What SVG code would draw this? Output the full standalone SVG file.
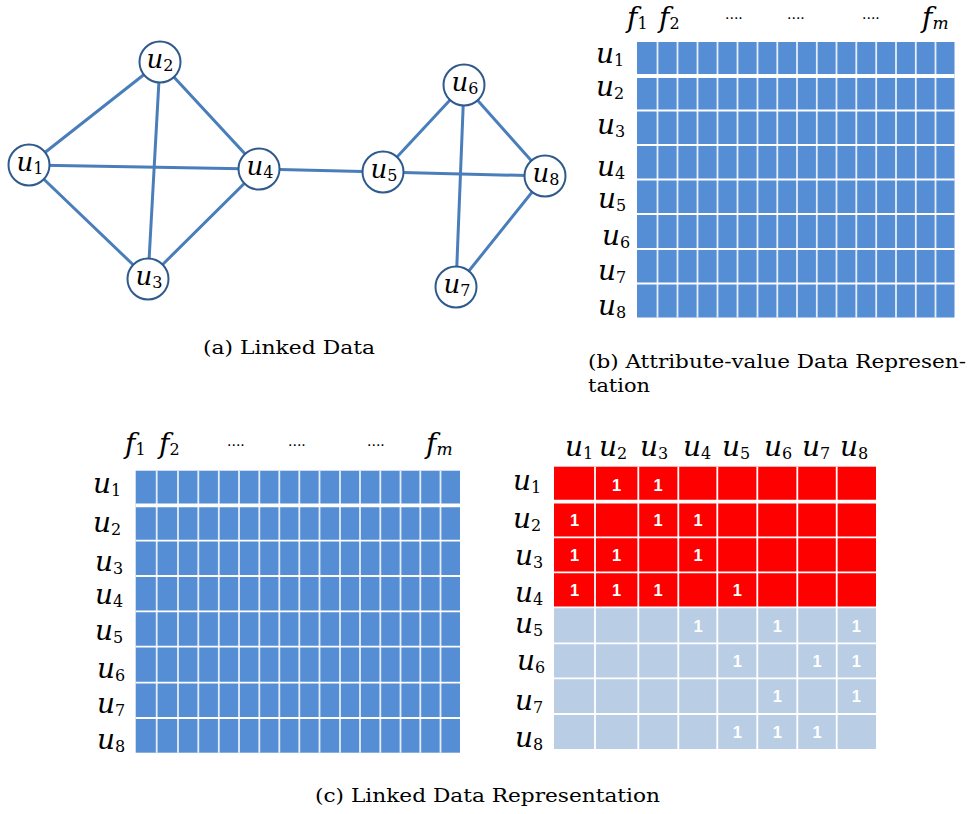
<svg xmlns="http://www.w3.org/2000/svg" width="969" height="814" viewBox="0 0 969 814">
<style>
.u{font-family:"DejaVu Serif",serif;font-style:italic;font-size:28px;fill:#000}
.gl{font-family:"DejaVu Serif",serif;font-style:italic;font-size:26px;fill:#000;text-anchor:middle}
.s{font-style:normal;font-size:16px}
.si{font-style:italic;font-size:17px}
.f{font-family:"DejaVu Serif",serif;font-style:italic;font-size:28px;fill:#000}
.dots{font-family:"Liberation Sans",Arial,sans-serif;font-size:16px;fill:#000}
.one{font-family:"Liberation Sans",Arial,sans-serif;font-weight:bold;font-size:16.5px;fill:#fff;text-anchor:middle}
.cap{font-family:"DejaVu Serif",serif;font-size:18px;fill:#000}
.gv{stroke:#fff;stroke-width:1.8;opacity:0.85}
.gh{stroke:#fff;stroke-width:1.8}
.gt{stroke:#fff;stroke-width:3.8}
.edge{stroke:#4a7ebb;stroke-width:3;stroke-linecap:round}
.node{fill:#fff;stroke:#2f5a8c;stroke-width:2}
</style>

<!-- connectors -->
<g id="connectors">
<line class="edge" x1="29" y1="165" x2="160" y2="62"/>
<line class="edge" x1="29" y1="165" x2="259" y2="169"/>
<line class="edge" x1="29" y1="165" x2="148" y2="279"/>
<line class="edge" x1="160" y1="62" x2="148" y2="279"/>
<line class="edge" x1="160" y1="62" x2="259" y2="169"/>
<line class="edge" x1="148" y1="279" x2="259" y2="169"/>
<line class="edge" x1="259" y1="169" x2="383" y2="172"/>
<line class="edge" x1="383" y1="172" x2="464" y2="85"/>
<line class="edge" x1="383" y1="172" x2="545" y2="176"/>
<line class="edge" x1="464" y1="85" x2="545" y2="176"/>
<line class="edge" x1="464" y1="85" x2="456" y2="287"/>
<line class="edge" x1="456" y1="287" x2="545" y2="176"/>
</g>

<!-- graph nodes -->
<g id="node-u1"><circle class="node" cx="29" cy="165" r="20.5"/><text class="gl" x="30" y="171">u<tspan class="s" dy="3">1</tspan></text></g>
<g id="node-u2"><circle class="node" cx="160" cy="62" r="20.5"/><text class="gl" x="160" y="68">u<tspan class="s" dy="3">2</tspan></text></g>
<g id="node-u3"><circle class="node" cx="148" cy="279" r="20.5"/><text class="gl" x="149" y="285">u<tspan class="s" dy="3">3</tspan></text></g>
<g id="node-u4"><circle class="node" cx="259" cy="169" r="20.5"/><text class="gl" x="260" y="175">u<tspan class="s" dy="3">4</tspan></text></g>
<g id="node-u5"><circle class="node" cx="383" cy="172" r="20.5"/><text class="gl" x="384" y="178">u<tspan class="s" dy="3">5</tspan></text></g>
<g id="node-u6"><circle class="node" cx="464" cy="85" r="20.5"/><text class="gl" x="465" y="91">u<tspan class="s" dy="3">6</tspan></text></g>
<g id="node-u7"><circle class="node" cx="456" cy="287" r="20.5"/><text class="gl" x="457" y="293">u<tspan class="s" dy="3">7</tspan></text></g>
<g id="node-u8"><circle class="node" cx="545" cy="176" r="20.5"/><text class="gl" x="546" y="182">u<tspan class="s" dy="3">8</tspan></text></g>

<text class="cap" x="203" y="354" textLength="172" lengthAdjust="spacingAndGlyphs">(a) Linked Data</text>

<!-- matrix (b) -->
<g id="matrix-b">
<rect x="637" y="42" width="317.5" height="275.5" fill="#558ed5"/>
<g>
<line class="gv" x1="657.5" y1="42" x2="657.5" y2="317.5"/>
<line class="gv" x1="677.5" y1="42" x2="677.5" y2="317.5"/>
<line class="gv" x1="697.5" y1="42" x2="697.5" y2="317.5"/>
<line class="gv" x1="717.5" y1="42" x2="717.5" y2="317.5"/>
<line class="gv" x1="737.5" y1="42" x2="737.5" y2="317.5"/>
<line class="gv" x1="757.5" y1="42" x2="757.5" y2="317.5"/>
<line class="gv" x1="777.3" y1="42" x2="777.3" y2="317.5"/>
<line class="gv" x1="797" y1="42" x2="797" y2="317.5"/>
<line class="gv" x1="816.8" y1="42" x2="816.8" y2="317.5"/>
<line class="gv" x1="836.5" y1="42" x2="836.5" y2="317.5"/>
<line class="gv" x1="856.3" y1="42" x2="856.3" y2="317.5"/>
<line class="gv" x1="876.2" y1="42" x2="876.2" y2="317.5"/>
<line class="gv" x1="896" y1="42" x2="896" y2="317.5"/>
<line class="gv" x1="915.8" y1="42" x2="915.8" y2="317.5"/>
<line class="gv" x1="935.5" y1="42" x2="935.5" y2="317.5"/>
<line class="gt" x1="637" y1="76" x2="954.5" y2="76"/>
<line class="gh" x1="637" y1="110.5" x2="954.5" y2="110.5"/>
<line class="gh" x1="637" y1="145" x2="954.5" y2="145"/>
<line class="gh" x1="637" y1="179.5" x2="954.5" y2="179.5"/>
<line class="gh" x1="637" y1="214" x2="954.5" y2="214"/>
<line class="gh" x1="637" y1="249" x2="954.5" y2="249"/>
<line class="gh" x1="637" y1="283.5" x2="954.5" y2="283.5"/>
</g>
<text class="f" x="627" y="27">f<tspan class="s" dy="2">1</tspan></text>
<text class="f" x="659" y="27">f<tspan class="s" dy="2">2</tspan></text>
<text class="dots" x="725" y="19">....</text>
<text class="dots" x="787" y="19">....</text>
<text class="dots" x="862" y="19">....</text>
<text class="f" x="922" y="27">f<tspan class="si" dy="2">m</tspan></text>
<text class="u" x="596" y="63">u<tspan class="s" dy="3">1</tspan></text>
<text class="u" x="596" y="96">u<tspan class="s" dy="3">2</tspan></text>
<text class="u" x="597" y="134">u<tspan class="s" dy="3">3</tspan></text>
<text class="u" x="597" y="176">u<tspan class="s" dy="3">4</tspan></text>
<text class="u" x="598" y="208">u<tspan class="s" dy="3">5</tspan></text>
<text class="u" x="602" y="245">u<tspan class="s" dy="3">6</tspan></text>
<text class="u" x="598" y="280">u<tspan class="s" dy="3">7</tspan></text>
<text class="u" x="598" y="315">u<tspan class="s" dy="3">8</tspan></text>
</g>
<text class="cap" x="588" y="368" textLength="378" lengthAdjust="spacingAndGlyphs">(b) Attribute-value Data Represen-</text>
<text class="cap" x="588" y="392" textLength="62" lengthAdjust="spacingAndGlyphs">tation</text>

<!-- matrix (c) left -->
<g id="matrix-c-attr">
<rect x="135.7" y="470.7" width="324.3" height="282" fill="#558ed5"/>
<g>
<line class="gv" x1="156.7" y1="470.7" x2="156.7" y2="752.7"/>
<line class="gv" x1="178" y1="470.7" x2="178" y2="752.7"/>
<line class="gv" x1="198.3" y1="470.7" x2="198.3" y2="752.7"/>
<line class="gv" x1="218.8" y1="470.7" x2="218.8" y2="752.7"/>
<line class="gv" x1="239" y1="470.7" x2="239" y2="752.7"/>
<line class="gv" x1="259.3" y1="470.7" x2="259.3" y2="752.7"/>
<line class="gv" x1="279.3" y1="470.7" x2="279.3" y2="752.7"/>
<line class="gv" x1="299.3" y1="470.7" x2="299.3" y2="752.7"/>
<line class="gv" x1="319.5" y1="470.7" x2="319.5" y2="752.7"/>
<line class="gv" x1="340" y1="470.7" x2="340" y2="752.7"/>
<line class="gv" x1="360" y1="470.7" x2="360" y2="752.7"/>
<line class="gv" x1="380.3" y1="470.7" x2="380.3" y2="752.7"/>
<line class="gv" x1="400.5" y1="470.7" x2="400.5" y2="752.7"/>
<line class="gv" x1="420.3" y1="470.7" x2="420.3" y2="752.7"/>
<line class="gv" x1="440.5" y1="470.7" x2="440.5" y2="752.7"/>
<line class="gt" x1="135.7" y1="505.4" x2="460" y2="505.4"/>
<line class="gh" x1="135.7" y1="540.7" x2="460" y2="540.7"/>
<line class="gh" x1="135.7" y1="576" x2="460" y2="576"/>
<line class="gh" x1="135.7" y1="611.3" x2="460" y2="611.3"/>
<line class="gh" x1="135.7" y1="646.7" x2="460" y2="646.7"/>
<line class="gh" x1="135.7" y1="682.6" x2="460" y2="682.6"/>
<line class="gh" x1="135.7" y1="718" x2="460" y2="718"/>
</g>
<text class="f" x="125" y="453">f<tspan class="s" dy="2">1</tspan></text>
<text class="f" x="159" y="453">f<tspan class="s" dy="2">2</tspan></text>
<text class="dots" x="227" y="446">....</text>
<text class="dots" x="288" y="446">....</text>
<text class="dots" x="367" y="446">....</text>
<text class="f" x="426" y="453">f<tspan class="si" dy="2">m</tspan></text>
<text class="u" x="93" y="493">u<tspan class="s" dy="3">1</tspan></text>
<text class="u" x="93" y="532">u<tspan class="s" dy="3">2</tspan></text>
<text class="u" x="95" y="571">u<tspan class="s" dy="3">3</tspan></text>
<text class="u" x="95" y="604">u<tspan class="s" dy="3">4</tspan></text>
<text class="u" x="95" y="640">u<tspan class="s" dy="3">5</tspan></text>
<text class="u" x="97" y="678">u<tspan class="s" dy="3">6</tspan></text>
<text class="u" x="97" y="713">u<tspan class="s" dy="3">7</tspan></text>
<text class="u" x="97" y="749">u<tspan class="s" dy="3">8</tspan></text>
</g>

<!-- matrix (c) right: adjacency -->
<g id="matrix-c-adj">
<rect x="554" y="466.7" width="322" height="140.6" fill="#ff0000"/>
<rect x="554" y="607.3" width="322" height="141.7" fill="#b9cde5"/>
<g>
<line class="gh" x1="595" y1="466.7" x2="595" y2="749"/>
<line class="gh" x1="638.3" y1="466.7" x2="638.3" y2="749"/>
<line class="gh" x1="678.3" y1="466.7" x2="678.3" y2="749"/>
<line class="gh" x1="717.3" y1="466.7" x2="717.3" y2="749"/>
<line class="gh" x1="757.3" y1="466.7" x2="757.3" y2="749"/>
<line class="gh" x1="797.3" y1="466.7" x2="797.3" y2="749"/>
<line class="gh" x1="836.7" y1="466.7" x2="836.7" y2="749"/>
<line class="gt" x1="554" y1="501.7" x2="876" y2="501.7"/>
<line class="gh" x1="554" y1="537.3" x2="876" y2="537.3"/>
<line class="gh" x1="554" y1="572.3" x2="876" y2="572.3"/>
<line class="gh" x1="554" y1="607.3" x2="876" y2="607.3"/>
<line class="gh" x1="554" y1="643.3" x2="876" y2="643.3"/>
<line class="gh" x1="554" y1="678.3" x2="876" y2="678.3"/>
<line class="gh" x1="554" y1="714" x2="876" y2="714"/>
</g>
<g>
<text class="one" x="616.5" y="490.5">1</text>
<text class="one" x="658" y="490.5">1</text>
<text class="one" x="574.5" y="525.5">1</text>
<text class="one" x="658" y="525.5">1</text>
<text class="one" x="698" y="525.5">1</text>
<text class="one" x="574.5" y="560.8">1</text>
<text class="one" x="616.5" y="560.8">1</text>
<text class="one" x="698" y="560.8">1</text>
<text class="one" x="574.5" y="596">1</text>
<text class="one" x="616.5" y="596">1</text>
<text class="one" x="658" y="596">1</text>
<text class="one" x="737.3" y="596">1</text>
<text class="one" x="698" y="631.5">1</text>
<text class="one" x="777.3" y="631.5">1</text>
<text class="one" x="856.4" y="631.5">1</text>
<text class="one" x="737.3" y="667">1</text>
<text class="one" x="817" y="667">1</text>
<text class="one" x="856.4" y="667">1</text>
<text class="one" x="777.3" y="702.3">1</text>
<text class="one" x="856.4" y="702.3">1</text>
<text class="one" x="737.3" y="737.6">1</text>
<text class="one" x="777.3" y="737.6">1</text>
<text class="one" x="817" y="737.6">1</text>
</g>
<text class="u" x="565" y="456">u<tspan class="s" dy="3">1</tspan></text>
<text class="u" x="599" y="456">u<tspan class="s" dy="3">2</tspan></text>
<text class="u" x="640" y="456">u<tspan class="s" dy="3">3</tspan></text>
<text class="u" x="683" y="456">u<tspan class="s" dy="3">4</tspan></text>
<text class="u" x="722" y="456">u<tspan class="s" dy="3">5</tspan></text>
<text class="u" x="764" y="456">u<tspan class="s" dy="3">6</tspan></text>
<text class="u" x="802" y="456">u<tspan class="s" dy="3">7</tspan></text>
<text class="u" x="840" y="456">u<tspan class="s" dy="3">8</tspan></text>
<text class="u" x="513" y="490">u<tspan class="s" dy="3">1</tspan></text>
<text class="u" x="513" y="528">u<tspan class="s" dy="3">2</tspan></text>
<text class="u" x="515" y="565">u<tspan class="s" dy="3">3</tspan></text>
<text class="u" x="515" y="602">u<tspan class="s" dy="3">4</tspan></text>
<text class="u" x="515" y="633">u<tspan class="s" dy="3">5</tspan></text>
<text class="u" x="517" y="670">u<tspan class="s" dy="3">6</tspan></text>
<text class="u" x="515" y="710">u<tspan class="s" dy="3">7</tspan></text>
<text class="u" x="515" y="747">u<tspan class="s" dy="3">8</tspan></text>
</g>

<text class="cap" x="315" y="802" textLength="345" lengthAdjust="spacingAndGlyphs">(c) Linked Data Representation</text>
</svg>
